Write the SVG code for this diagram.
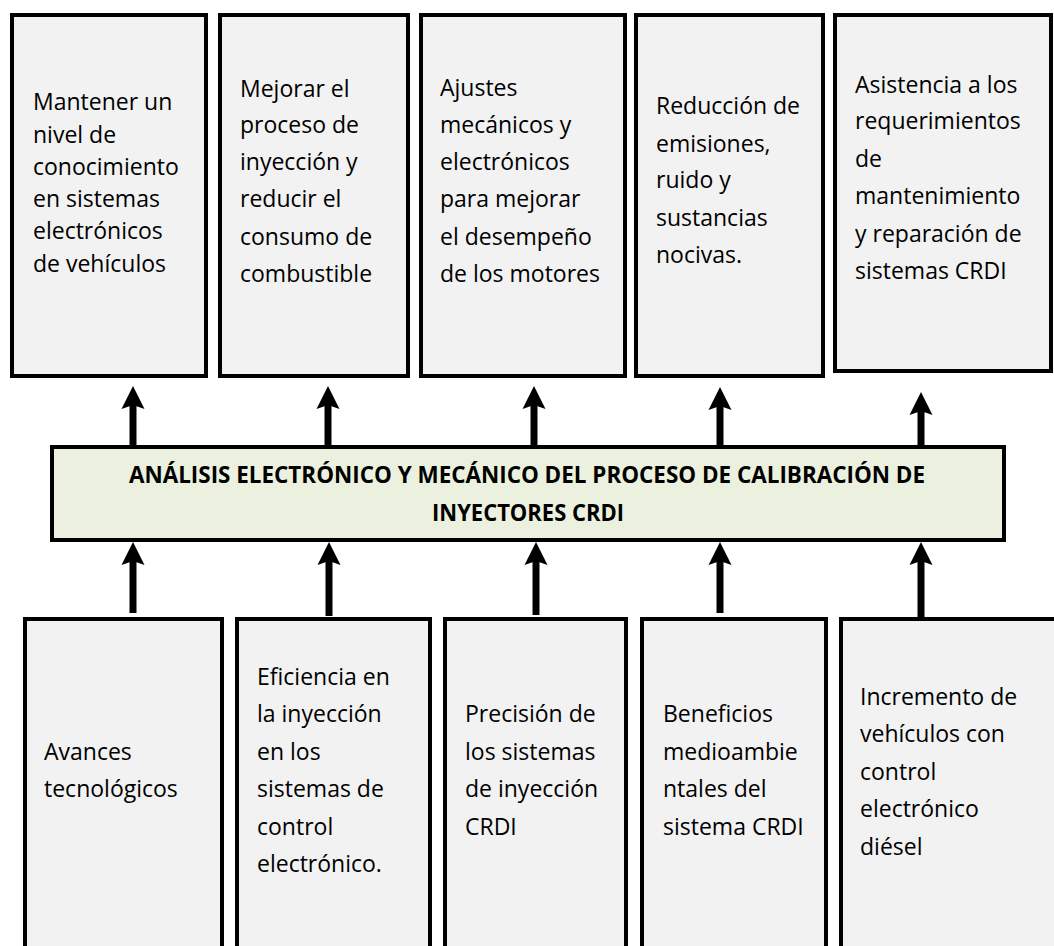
<svg xmlns="http://www.w3.org/2000/svg" width="1054" height="946" viewBox="0 0 1054 946">
<style>
.box{fill:#f2f2f2;stroke:#000;stroke-width:4}
.main{fill:#ebf1de;stroke:#000;stroke-width:4}
.t{font-family:"Open Sans","Liberation Sans",sans-serif;font-size:23px;fill:#000}
.b{font-family:"Open Sans","Liberation Sans",sans-serif;font-size:23px;font-weight:bold;fill:#000}
.arr{stroke:#000;stroke-width:7;fill:none;marker-end:url(#ah)}
</style>
<defs>
<marker id="ah" markerUnits="userSpaceOnUse" markerWidth="24" markerHeight="24" viewBox="0 -12 24 24" refX="4" refY="0" orient="auto" overflow="visible">
<path d="M0,-11.5 L23,0 L0,11.5 L4,0 Z" fill="#000"/>
</marker>
</defs>
<rect width="1054" height="946" fill="#fff"/>
<g id="connectors">
<line class="arr" x1="133" y1="446" x2="133" y2="405"/>
<line class="arr" x1="328" y1="446" x2="328" y2="405"/>
<line class="arr" x1="534" y1="446" x2="534" y2="405"/>
<line class="arr" x1="720" y1="446" x2="720" y2="406"/>
<line class="arr" x1="921" y1="446" x2="921" y2="411"/>
<line class="arr" x1="133" y1="613" x2="133" y2="561"/>
<line class="arr" x1="329" y1="616" x2="329" y2="561"/>
<line class="arr" x1="536" y1="615" x2="536" y2="561"/>
<line class="arr" x1="720" y1="613" x2="720" y2="561"/>
<line class="arr" x1="921" y1="619" x2="921" y2="561"/>
</g>
<g id="top1"><rect class="box" x="12" y="15" width="194" height="361"/>
<text class="t" x="33" y="110">Mantener un</text><text class="t" x="33" y="143">nivel de</text><text class="t" x="33" y="175">conocimiento</text><text class="t" x="33" y="207">en sistemas</text><text class="t" x="33" y="239">electrónicos</text><text class="t" x="33" y="272">de vehículos</text></g>
<g id="top2"><rect class="box" x="220" y="15" width="188" height="361"/>
<text class="t" x="240" y="97">Mejorar el</text><text class="t" x="240" y="133">proceso de</text><text class="t" x="240" y="170">inyección y</text><text class="t" x="240" y="207">reducir el</text><text class="t" x="240" y="245">consumo de</text><text class="t" x="240" y="282">combustible</text></g>
<g id="top3"><rect class="box" x="421" y="15" width="204" height="361"/>
<text class="t" x="440" y="96">Ajustes</text><text class="t" x="440" y="133">mecánicos y</text><text class="t" x="440" y="170">electrónicos</text><text class="t" x="440" y="207">para mejorar</text><text class="t" x="440" y="245">el desempeño</text><text class="t" x="440" y="282">de los motores</text></g>
<g id="top4"><rect class="box" x="636" y="15" width="187" height="361"/>
<text class="t" x="656" y="114">Reducción de</text><text class="t" x="656" y="152">emisiones,</text><text class="t" x="656" y="188">ruido y</text><text class="t" x="656" y="226">sustancias</text><text class="t" x="656" y="263">nocivas.</text></g>
<g id="top5"><rect class="box" x="835" y="15" width="216" height="356"/>
<text class="t" x="855" y="93">Asistencia a los</text><text class="t" x="855" y="129">requerimientos</text><text class="t" x="855" y="167">de</text><text class="t" x="855" y="204">mantenimiento</text><text class="t" x="855" y="242">y reparación de</text><text class="t" x="855" y="279">sistemas CRDI</text></g>
<g id="center"><rect class="main" x="52" y="447" width="952" height="93"/>
<text class="b" x="527" y="483" text-anchor="middle" textLength="796" lengthAdjust="spacingAndGlyphs">ANÁLISIS ELECTRÓNICO Y MECÁNICO DEL PROCESO DE CALIBRACIÓN DE</text>
<text class="b" x="528" y="521" text-anchor="middle" textLength="192" lengthAdjust="spacingAndGlyphs">INYECTORES CRDI</text></g>
<g id="bot1"><rect class="box" x="25" y="619" width="197" height="360"/>
<text class="t" x="44" y="760">Avances</text><text class="t" x="44" y="797">tecnológicos</text></g>
<g id="bot2"><rect class="box" x="237" y="619" width="193" height="360"/>
<text class="t" x="257" y="685">Eficiencia en</text><text class="t" x="257" y="722">la inyección</text><text class="t" x="257" y="760">en los</text><text class="t" x="257" y="797">sistemas de</text><text class="t" x="257" y="835">control</text><text class="t" x="257" y="872">electrónico.</text></g>
<g id="bot3"><rect class="box" x="445" y="619" width="181" height="360"/>
<text class="t" x="465" y="722">Precisión de</text><text class="t" x="465" y="760">los sistemas</text><text class="t" x="465" y="797">de inyección</text><text class="t" x="465" y="835">CRDI</text></g>
<g id="bot4"><rect class="box" x="642" y="619" width="184" height="360"/>
<text class="t" x="663" y="722">Beneficios</text><text class="t" x="663" y="760">medioambie</text><text class="t" x="663" y="797">ntales del</text><text class="t" x="663" y="835">sistema CRDI</text></g>
<g id="bot5"><rect class="box" x="841" y="619" width="230" height="360"/>
<text class="t" x="860" y="705">Incremento de</text><text class="t" x="860" y="742">vehículos con</text><text class="t" x="860" y="780">control</text><text class="t" x="860" y="817">electrónico</text><text class="t" x="860" y="855">diésel</text></g>
</svg>
